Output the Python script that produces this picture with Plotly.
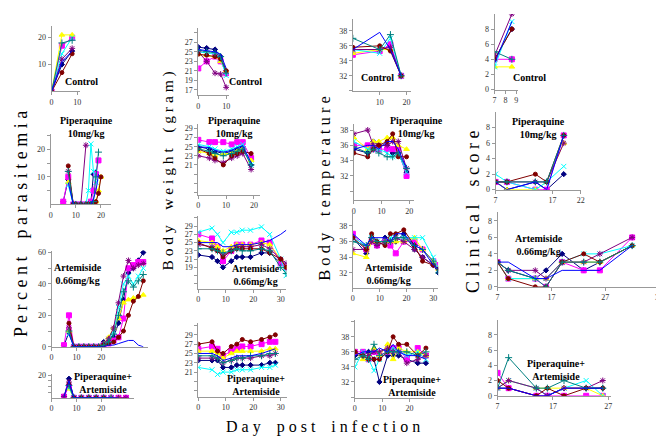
import plotly.graph_objects as go

W, H = 664, 436

# one colour / marker per mouse (Excel-style series order)
colors = ['#000080', '#FF00FF', '#FFFF00', '#00FFFF', '#800080', '#800000', '#008080', '#0000FF']
symbols = ['diamond', 'square', 'triangle-up', 'x-thin', 'asterisk', 'circle', 'cross-thin', None]
sizes = [4, 5, 5, 5, 5, 4, 5, 0]

# ---------------- Percent parasitemia ----------------
para_ctrl_days = [0, 4, 8]
para_ctrl = [
    [0, 10, 15], [0, 17, 20], [0, 21, 21], [0, 14, 20],
    [0, 12, 16], [0, 7, 14], [0, 18, 19], [0, 11, 15],
]
para_pip_days = [5, 7, 9, 10, 12, 14, 15, 16, 17, 18, 19, 20]
para_pip = [
    [1, 9, 0, 0, 0, 0, 0, 1, 11, 11.5, None, None],
    [1, 10, 0, 0, 0, 0, 0, 1, 5, 11, 16, None],
    [None, 8, 0, 0, 0, 0, 0, 0, 0, 1, 5, 10],
    [None, 7, 0, 0, 0, 0, 5, 22, 12, 8, None, None],
    [None, 12, 0, 0, 0, 21.5, None, None, None, None, None, None],
    [None, 14, 0, 0, 0, 0, 0, 0, 0, 1, 4, 10],
    [None, 12, 0, 0, 0, 0, 0, 0, 1, 10, 19, None],
    [None, 8, 0, 0, 0, 0, 0, 0, 2, 5, 11, None],
]
para_art_days = [5, 7, 9, 11, 13, 15, 17, 19, 21, 23, 25, 27, 29, 31, 33, 35, 37]
para_art = [
    [1, 9, 0, 0, 0, 0, 0, 0, 3, 3, 6, 15, 30, 47, 50, 55, 60],
    [1, 20, 0, 0, 0, 0, 0, 0, 1, 2, 4, 6, 18, 50, 52, 54, 54],
    [None, 10, 0, 0, 0, 0, 0, 0, 2, 6, 12, 18, 28, 30, 31, 32, 33],
    [None, 8, 0, 0, 0, 0, 0, 0, 1, 4, 10, 25, 40, 45, 40, 45, 50],
    [None, 12, 0, 0, 0, 0, 0, 0, 2, 5, 12, 28, 45, 55, 50, 52, 53],
    [None, 15, 0, 0, 0, 0, 0, 0, 1, 2, 3, 6, 10, 20, 29, 32, 42],
    [None, 10, 0, 0, 0, 0, 0, 0, 1, 3, 8, 20, 35, 42, 38, 42, 46],
    [None, 8, 0, 0, 0, 0, 0, 0, 0, 1, 1, 2, 3, 4, 4, 1, 0],
]
para_combo_days = [5, 7, 9, 12, 15, 18, 21, 24, 27, 30]
para_combo = [
    [1, 17, 0, 0, 0, 0, 0, 0, 0, 0],
    [1, 10, 0, 0, 0, 0, 0, 0, 0, 0],
    [None, 8, 0, 0, 0, 0, 0, 0, 0, None],
    [None, 9, 0, 0, 0, 0, 0, 0, None, None],
    [1, 14, 0, 0, 0, 0, 0, 0, 0, 0],
    [None, 12, 0, 0, 0, 0, 0, None, None, None],
    [None, 11, 0, 0, 0, 0, 0, 0, None, None],
    [1, 15, 0, 0, 0, 0, 0, 0, 0, None],
]

# ---------------- Body weight (gram) ----------------
wt_ctrl_days = [0, 3, 6, 8, 10]
wt_ctrl = [
    [26, 25.8, 25.5, 24, 21], [21.5, 23, 24, 23, 20.5], [24.5, 24.3, 24, 23, 21],
    [25, 24.8, 24.5, 23.5, 20], [25, 23, 20.5, 20.3, 17.5], [24.5, 24.3, 24, 23.5, 21],
    [25.3, 25, 24.8, 24, 20.5], [25.5, 25.3, 25, 24.5, 21.5],
]
wt_pip_days = [0, 4, 6, 9, 12, 14, 16, 19]
wt_pip = [
    [25, 24.5, 24, 23.5, 24, 24.5, 25, 21],
    [26.5, 26, 26, 26, 25.5, 26, 26, 22.5],
    [24, 23.5, 23, 23.5, 23.5, 24, 24.5, 22],
    [25.5, 25, 24.5, 24, 24.5, 25, 25.5, 21],
    [23, 22.5, 22, 21.5, 22.5, 23, 23.5, 20],
    [24.5, 23.5, 22.5, 21, 23, 23.5, 24, 23.5],
    [24.5, 24, 23.5, 23, 23.5, 24, 24.5, 21],
    [25, 24.8, 24.2, 23.8, 24.2, 24.8, 25.2, 21.5],
]
wt_art_days = [0, 5, 7, 9, 12, 14, 16, 19, 23, 26, 30, 32]
wt_art = [
    [22, 21.5, 20.5, 19, 20.5, 21.5, 21.5, 21.5, 22.5, 22.5, 20, 19],
    [27, 26, 24, 20.5, 23, 24.5, 24.5, 24.5, 25.5, 25, 20, 19],
    [25.5, 25, 24, 23, 24, 24.5, 24.5, 24.5, 25, 24.5, 21, 19],
    [27.5, 28.5, 27, 25, 27.5, 27.5, 28, 28, 28.8, 27, 21, 17],
    [24.5, 24, 23, 22, 23, 24, 24, 24, 24.5, 23.5, 21, 20],
    [25, 23.5, 23, 21.5, 23, 23.5, 23.5, 23.5, 23.5, 22.5, 21, 19],
    [23.5, 23.5, 23, 22.5, 23, 23.5, 23, 23, 23.5, 23, 19, 17.5],
    [25, 25, 25, 24, 24, 24.5, 24.5, 24.5, 25, 25.5, 27, 28],
]
wt_combo_days = [0, 5, 7, 9, 12, 14, 16, 19, 23, 26, 28]
wt_combo = [
    [23.5, 23.5, 23.5, 22, 22, 22.5, 22.5, 22.5, 22.5, 23, 23],
    [26, 26.5, 26, 24.5, 25.5, 26, 26.5, 26.5, 27, 27.5, 27.5],
    [25.5, 25.5, 25, 24, 25, 25.5, 25.5, 25.5, 25.5, 26, 26],
    [22, 21.5, 20.5, 21, 21, 21.5, 21.5, 21.5, 22, 22, 22.5],
    [24, 24, 24, 23, 23.5, 24, 24, 24, 24.5, 24.5, 25],
    [27, 27.5, 25.5, 25, 26.5, 27, 28, 27.5, 28, 28.5, 29],
    [24.5, 24.5, 24, 23, 23.5, 24, 24, 24.5, 24.5, 25, 25],
    [25, 25, 24.5, 23.5, 24, 24.5, 24.5, 24.5, 25, 25.5, 26],
]

# ---------------- Body temperature ----------------
tp_ctrl_days = [0, 10, 14, 18]
tp_ctrl = [
    [35.5, 35.5, 36, 32], [34.8, 35.3, 36.2, 32], [35, 35.5, 35.5, 32], [35.5, 35, 37, 32],
    [35.5, 35.5, 35.8, 32], [35.8, 36, 35.3, 32], [37, 35.5, 37.5, 32], [35.5, 37.8, 35.5, 32],
]
tp_pip_days = [0, 5, 7, 9, 12, 14, 16, 19]
tp_pip = [
    [35.5, 35, 36.5, 36, 36, 35, 35, 32.5],
    [36, 36, 35.5, 35.5, 35.5, 35.5, 35.5, 32],
    [37, 35.5, 36.5, 36.5, 37, 37, 36, 35.5],
    [36.5, 35.5, 35.5, 35.5, 35, 34.5, 35, 32.5],
    [37.5, 38, 36, 36, 36, 36.5, 36.5, 33],
    [35, 34.5, 35.5, 36, 36.5, 37.5, 34.5, 34.5],
    [35.8, 35, 35.5, 35, 34.5, 34.5, 35, 33],
    [35.5, 36, 36, 35.5, 36.5, 36.5, 35.5, 33],
]
tp_art_days = [0, 5, 7, 9, 12, 14, 16, 19, 23, 26, 30, 32]
tp_art = [
    [36.5, 34.5, 36.5, 35.5, 36.5, 36, 36, 37, 35, 34, 33, 32],
    [37, 35, 36, 35.5, 36, 35.5, 34.5, 36, 36, 35, 33.5, 33],
    [34.5, 34, 36, 36, 36, 36, 36, 36, 36.5, 35, 33.5, 32.5],
    [36.5, 35.5, 36.5, 36, 36, 36.5, 36.5, 36.5, 36.5, 36.5, 34, 32.5],
    [35, 35, 36, 35.5, 36, 36, 36.5, 36, 35, 34, 33, 32.5],
    [36.5, 35, 37, 36, 35.5, 37, 37, 37.5, 35.5, 33.5, 33, 32.5],
    [36, 35.5, 36.5, 36, 36, 36, 36.5, 36.5, 35.5, 35, 33.5, 32],
    [37, 35.5, 36.5, 36.5, 36.5, 36, 37, 37, 35.5, 35, 33, 32.5],
]
tp_combo_days = [0, 3, 5, 7, 9, 12, 14, 16, 19, 23, 26]
tp_combo = [
    [35.5, 35.5, 36, 35, 32, 35.5, 35.5, 35.5, 35, 34.5, 34.5],
    [36, 36, 35, 36, 35.5, 36, 36.5, 36.5, 35, 36.5, 35.5],
    [36, 35, 35.5, 36.5, 35.5, 37, 35, 36.5, 36, 36, 35.5],
    [34, 36, 35, 33.5, 35, 36, 36.5, 36, 35.5, 36, 35],
    [36, 35.5, 35.5, 36, 36, 36.5, 36, 36, 34.5, 35, 35.5],
    [36, 35.5, 35, 35, 35, 36, 38, 37, 37, 35.5, 36.5],
    [35, 35.5, 35, 37, 35.5, 36, 36, 36, 36, 35.5, 36],
    [35.5, 36, 36, 36, 36.5, 36, 37, 36, 35.5, 35.5, 35],
]

# ---------------- Clinical score ----------------
cs_ctrl_days = [7, 8.6]
cs_ctrl = [
    [4, 8], [4, 4], [3, 3], [3, 9], [4.5, 10], [4, 8], [5, 4], [3.5, 9],
]
cs_pip_days = [7, 9, 14, 16, 19]
cs_pip = [
    [1, 0, 1, 0, 2], [1, 1, 0, 0, 7], [1, 0, 0, 1, 6], [2, 1, 0, 1, 3],
    [1, 1, 1, 1, 6], [1, 1, 2, 1, 7], [1, 1, 1, 1, 7], [1, 0, 1, 0, 7],
]
cs_art_days = [7, 9, 14, 16, 19, 23, 26, 32]
cs_art = [
    [3, 2, 1, 2, 4, 2, 3, 5], [3, 1, 1, 0, 3, 2, 2, 6], [3, 1, 1, 1, 3, 3, 3, 5],
    [3, 1, 1, 1, 3, 4, 4, 5], [3, 2, 2, 1, 3, 3, 4, 6], [3, 1, 0, 0, 3, 4, 3, 5],
    [3, 2, 1, 0, 3, 3, 3, 5], [3, 3, 1, 1, 2, 2, 2, 5],
]
cs_combo_days = [7, 9, 14, 16, 19, 23, 26]
cs_combo = [
    [1, 1, 0, 0, 1, 1, 1], [3, 1, 0, 0, 0, 0, 0], [1, 2, 1, 1, 1, 1, 0],
    [1, 2, 1, 0, 1, 2, 0], [1, 2, 1, 0, 1, 1, 2], [2, 1, 0, 1, 0, 1, 1],
    [1, 5, 1, 1, 2, 1, 1], [1, 1, 0, 0, 1, 1, 1],
]

lbl_ctrl = 'Control'
lbl_pip = 'Piperaquine<br>10mg/kg'
lbl_art = 'Artemiside<br>0.66mg/kg'
lbl_combo = 'Piperaquine+<br>Artemiside'

# panel boxes in pixels: x0, x1, ytop, ybot ; ranges ; ticks ; label position
panels = [
    (para_ctrl_days, para_ctrl, (42, 71, 15, 82), [0, 11.2], [0, 24.4], [0, 10], [10, 20], [], lbl_ctrl, (72, 72)),
    (para_pip_days, para_pip, (41, 102, 125, 197), [0, 24], [0, 25.7], [0, 10, 20], [10, 20], [5, 15, 25], lbl_pip, (77, 118)),
    (para_art_days, para_art, (42, 139, 244, 342), [0, 38.8], [0, 61.3], [0, 10, 20], [0, 20, 40, 60], [10, 30, 50], lbl_art, (69, 268)),
    (para_combo_days, para_combo, (42, 125, 370, 394), [0, 33.2], [0, 21], [0, 10, 20], [20], [5, 10, 15], lbl_combo, (94, 379)),
    (wt_ctrl_days, wt_ctrl, (190, 221, 17, 86), [0, 11], [15.8, 30.1], [0, 10], [17, 19, 21, 23, 25, 27], [29], lbl_ctrl, (238, 72)),
    (wt_pip_days, wt_pip, (190, 252, 115, 187), [0, 22.1], [14.5, 30], [0, 10, 20], [21, 23, 25, 27, 29], [15, 17, 19], lbl_pip, (227, 118)),
    (wt_art_days, wt_art, (190, 279, 209, 283), [0, 32.1], [13.8, 31.4], [0, 10, 20, 30], [19, 21, 23, 25, 27, 29], [15, 17, 31], lbl_art, (248, 269)),
    (wt_combo_days, wt_combo, (190, 280, 318, 393), [0, 32.4], [15.7, 31.5], [0, 10, 20, 30], [21, 23, 25, 27, 29], [17, 19, 31], lbl_combo, (248, 381)),
    (tp_ctrl_days, tp_ctrl, (346, 405, 8, 82), [0, 21.8], [29.9, 39.6], [10, 20], [32, 34, 36, 38], [30], lbl_ctrl, (371, 68)),
    (tp_pip_days, tp_pip, (347, 408, 115, 193), [0, 21.8], [28.8, 38.8], [0, 10, 20], [32, 34, 36, 38], [30], lbl_pip, (410, 118)),
    (tp_art_days, tp_art, (346, 432, 205, 282), [0, 31.8], [30.1, 39.75], [0, 10, 20, 30], [32, 34, 36, 38], [], lbl_art, (382, 268)),
    (tp_combo_days, tp_combo, (348, 428, 315, 394), [0, 29], [29.9, 40.2], [0, 10, 20], [32, 34, 36, 38], [30, 40], lbl_combo, (406, 382)),
    (cs_ctrl_days, cs_ctrl, (489, 513, 3, 80), [7, 9.2], [0, 10], [7, 8, 9], [0, 2, 4, 6, 8], [], lbl_ctrl, (524, 68)),
    (cs_pip_days, cs_pip, (490, 576, 103, 182), [7, 22], [0, 10], [7, 17, 22], [0, 2, 4, 6, 8], [], lbl_pip, (533, 119)),
    (cs_art_days, cs_art, (492, 655, 205, 281), [7, 37], [0, 9.05], [7, 17, 27, 37], [0, 2, 4, 6, 8], [], lbl_art, (534, 238)),
    (cs_combo_days, cs_combo, (492, 606, 315, 392), [7, 27.4], [0, 9.9], [7, 17, 27], [0, 2, 4, 6, 8], [], lbl_combo, (551, 366)),
]

tickfont = dict(family='Liberation Serif', size=8, color='#333333')
fig = go.Figure()
annotations = []

for i, (days, mice, box, xr, yr, xt, yt, ymin, label, lpos) in enumerate(panels, start=1):
    x0, x1, ytop, ybot = box
    xname = 'xaxis' if i == 1 else f'xaxis{i}'
    yname = 'yaxis' if i == 1 else f'yaxis{i}'
    xref = 'x' if i == 1 else f'x{i}'
    yref = 'y' if i == 1 else f'y{i}'
    for k, vals in enumerate(mice):
        if symbols[k] is None:
            fig.add_trace(go.Scatter(
                x=days, y=vals, xaxis=xref, yaxis=yref, mode='lines',
                line=dict(color=colors[k], width=1), hoverinfo='skip'))
            continue
        fig.add_trace(go.Scatter(
            x=days, y=vals, xaxis=xref, yaxis=yref, mode='lines+markers',
            line=dict(color=colors[k], width=1),
            marker=dict(color=colors[k], symbol=symbols[k], size=sizes[k],
                        line=dict(color=colors[k], width=1)),
            hoverinfo='skip'))
    yvals = sorted(yt + ymin)
    fig.update_layout(**{
        xname: dict(domain=[x0 / W, x1 / W], range=xr, anchor=yref,
                    tickvals=xt, ticks='outside', ticklen=3, tickcolor='#999999',
                    showline=True, linecolor='#999999', linewidth=1,
                    showgrid=False, zeroline=False, tickfont=tickfont),
        yname: dict(domain=[1 - ybot / H, 1 - ytop / H], range=yr, anchor=xref,
                    tickvals=yvals, ticktext=[str(v) if v in yt else '' for v in yvals],
                    ticks='outside', ticklen=3, tickcolor='#999999',
                    showline=True, linecolor='#999999', linewidth=1,
                    showgrid=False, zeroline=False, tickfont=tickfont),
    })
    annotations.append(dict(
        x=lpos[0] / W, y=1 - lpos[1] / H, xref='paper', yref='paper',
        text='<b>' + label + '</b>', showarrow=False, xanchor='center', yanchor='middle',
        font=dict(family='Liberation Serif', size=10, color='#000000')))


def spaced(s):
    return ' '.join(s).replace('   ', '    ')


# big letter-spaced axis titles
for text, px, py, fs in [('Percent parasitemia', 11, 217, 18), ('Body weight (gram)', 159, 163, 15.5),
                         ('Body temperature', 318, 181, 16.5), ('Clinical score', 467, 205, 18)]:
    annotations.append(dict(x=px / W, y=1 - py / H, xref='paper', yref='paper',
                            text=spaced(text), textangle=-90, showarrow=False,
                            xanchor='center', yanchor='middle',
                            font=dict(family='Liberation Serif', size=fs, color='#000000')))
annotations.append(dict(x=316 / W, y=1 - 424 / H, xref='paper', yref='paper',
                        text=spaced('Day post infection'), showarrow=False,
                        xanchor='center', yanchor='middle',
                        font=dict(family='Liberation Serif', size=16, color='#000000')))

fig.update_layout(width=W, height=H, margin=dict(l=0, r=0, t=0, b=0),
                  paper_bgcolor='white', plot_bgcolor='white',
                  showlegend=False, annotations=annotations)

fig.write_html('out.html')
